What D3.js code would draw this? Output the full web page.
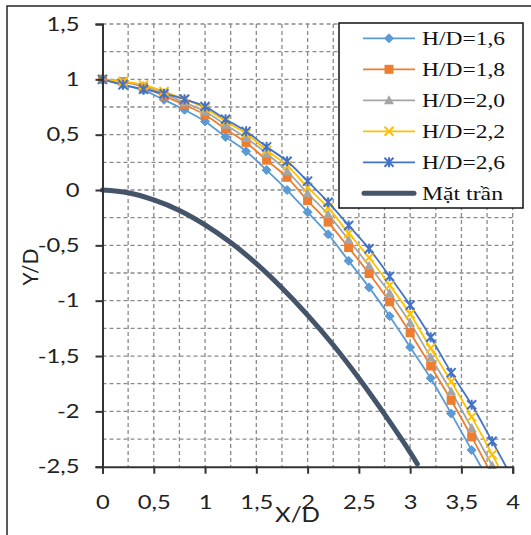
<!DOCTYPE html>
<html><head><meta charset="utf-8">
<script src="https://cdn.jsdelivr.net/npm/d3@7"></script>
<style>body{margin:0;background:#fff}svg{display:block}</style>
</head><body>
<svg id="c" width="531" height="535"></svg>
<script>
// ---- data ----
const xValues = [0,0.2,0.4,0.6,0.8,1.0,1.2,1.4,1.6,1.8,2.0,2.2,2.4,2.6,2.8,3.0,3.2,3.4,3.6,3.8,4.0];
const hd16 = [1.0,0.95,0.90,0.815,0.725,0.62,0.48,0.35,0.18,0.0,-0.20,-0.40,-0.64,-0.88,-1.14,-1.42,-1.70,-2.02,-2.35,-2.68];
const hd18 = [1.0,0.98,0.93,0.85,0.77,0.68,0.55,0.43,0.27,0.115,-0.095,-0.29,-0.52,-0.755,-1.01,-1.29,-1.59,-1.90,-2.23,-2.58];
const hd20 = [1.0,0.98,0.94,0.87,0.79,0.71,0.59,0.47,0.33,0.17,-0.03,-0.22,-0.45,-0.685,-0.93,-1.20,-1.51,-1.82,-2.15,-2.49,-2.85];
const hd22 = [1.0,0.98,0.95,0.89,0.82,0.74,0.62,0.51,0.36,0.22,0.025,-0.16,-0.39,-0.61,-0.86,-1.12,-1.43,-1.73,-2.05,-2.39,-2.75];
const hd26 = [1.0,0.95,0.91,0.87,0.82,0.755,0.64,0.53,0.39,0.26,0.08,-0.11,-0.32,-0.53,-0.78,-1.04,-1.33,-1.65,-1.94,-2.27,-2.61];
const ceilX = [0,0.25,0.5,0.75,1.0,1.25,1.5,1.75,2.0,2.25,2.5,2.75,3.0,3.07];
const ceilY = [0,-0.025,-0.09,-0.185,-0.315,-0.475,-0.665,-0.885,-1.13,-1.40,-1.70,-2.025,-2.37,-2.475];
const seriesNames = ["H/D=1,6","H/D=1,8","H/D=2,0","H/D=2,2","H/D=2,6","Mặt trần"];
const xTicks = [0,0.5,1,1.5,2,2.5,3,3.5,4];
const yTicks = [-2.5,-2,-1.5,-1,-0.5,0,0.5,1,1.5];
const gridStepsX = d3.range(0,4.001,0.25);
const gridStepsY = d3.range(-2.5,1.501,0.25);
const xTitle = "X/D", yTitle = "Y/D";

// ---- setup ----
const svg = d3.select("#c");
const x = d3.scaleLinear().domain([0,4]).range([102.5,512.7]);
const y = d3.scaleLinear().domain([-2.5,1.5]).range([466.7,24]);
const fmt = d => String(d).replace(".", ",");
const SX = 1.25;
const TFONT = "Lato, 'Open Sans', sans-serif";

// outer border
svg.append("rect").attr("x",7).attr("y",6).attr("width",540).attr("height",545)
  .attr("fill","#fff").attr("stroke","#262626").attr("stroke-width",1.5);

// grid
const grid = svg.append("g").attr("stroke","#8a8a8a").attr("stroke-width",1.3).attr("stroke-dasharray","4,3");
grid.selectAll("line.gx").data(gridStepsX.filter(v=>v>0)).join("line")
  .attr("x1",d=>x(d)).attr("x2",d=>x(d)).attr("y1",y(1.5)).attr("y2",y(-2.5));
grid.selectAll("line.gy").data(gridStepsY.filter(v=>v>-2.5)).join("line").attr("class","gy")
  .attr("x1",x(0)).attr("x2",x(4)).attr("y1",d=>y(d)).attr("y2",d=>y(d));

// clip
const defs = svg.append("defs");
defs.append("clipPath").attr("id","clipL").append("rect").attr("x",90).attr("y",10).attr("width",430).attr("height",457);
defs.append("clipPath").attr("id","clipM").append("rect").attr("x",90).attr("y",10).attr("width",430).attr("height",459);

const colors = ["#5B9BD5","#ED7D31","#A5A5A5","#FFC000","#4472C4"];
const data = [hd16,hd18,hd20,hd22,hd26];
const markerTypes = ["diamond","square","triangle","x","star"];

function drawMarker(g, type, cx, cy, color){
  if(type==="diamond"){
    g.append("path").attr("d",`M${cx},${cy-4.5}L${cx+4.5},${cy}L${cx},${cy+4.5}L${cx-4.5},${cy}Z`).attr("fill",color).attr("stroke",color).attr("stroke-width",1);
  } else if(type==="square"){
    g.append("rect").attr("x",cx-4.5).attr("y",cy-4.5).attr("width",9).attr("height",9).attr("fill",color);
  } else if(type==="triangle"){
    g.append("path").attr("d",`M${cx},${cy-5}L${cx+5},${cy+4}L${cx-5},${cy+4}Z`).attr("fill",color);
  } else if(type==="x"){
    g.append("path").attr("d",`M${cx-4.5},${cy-4.5}L${cx+4.5},${cy+4.5}M${cx+4.5},${cy-4.5}L${cx-4.5},${cy+4.5}`).attr("stroke",color).attr("stroke-width",2).attr("fill","none");
  } else if(type==="star"){
    g.append("path").attr("d",`M${cx-4.5},${cy-4.5}L${cx+4.5},${cy+4.5}M${cx+4.5},${cy-4.5}L${cx-4.5},${cy+4.5}M${cx},${cy-5}L${cx},${cy+5}`).attr("stroke",color).attr("stroke-width",2).attr("fill","none");
  }
}

const line = d3.line().x(d=>x(d[0])).y(d=>y(d[1])).curve(d3.curveCatmullRom.alpha(0.5));
const plotL = svg.append("g").attr("clip-path","url(#clipL)");
const plotM = svg.append("g").attr("clip-path","url(#clipM)");

// ceiling
plotL.append("path").datum(ceilX.map((v,i)=>[v,ceilY[i]])).attr("d",line)
  .attr("fill","none").attr("stroke","#44546A").attr("stroke-width",5).attr("stroke-linecap","round");

data.forEach((arr,i)=>{
  const pts = arr.map((v,k)=>[xValues[k],v]);
  plotL.append("path").datum(pts).attr("d",line).attr("fill","none").attr("stroke",colors[i]).attr("stroke-width",1.8);
});
data.forEach((arr,i)=>{
  arr.forEach((v,k)=>drawMarker(plotM, markerTypes[i], x(xValues[k]), y(v), colors[i]));
});

// axes
const axY = svg.append("g").attr("transform",`translate(${x(0)},0)`)
  .call(d3.axisLeft(y).tickValues(yTicks).tickFormat(fmt).tickSize(7).tickPadding(16));
const axX = svg.append("g").attr("transform",`translate(0,${y(-2.5)})`)
  .call(d3.axisBottom(x).tickValues(xTicks).tickFormat(fmt).tickSize(7).tickPadding(22));
[axY,axX].forEach(a=>{
  a.select(".domain").attr("stroke","#333").attr("stroke-width",2);
  a.selectAll(".tick line").attr("stroke","#333").attr("stroke-width",2);
  a.selectAll("text").attr("font-family",TFONT).attr("font-size",19).attr("fill","#222");
});
axY.selectAll("text").each(function(){
  const tx = +d3.select(this).attr("x");
  d3.select(this).attr("transform",`translate(${tx},0) scale(${SX},1) translate(${-tx},0)`);
});
axX.selectAll("text").attr("transform",`scale(${SX},1)`);

// axis titles
svg.append("text").attr("x",297.5).attr("y",522).attr("text-anchor","middle")
  .attr("font-family",TFONT).attr("font-size",21).attr("fill","#222")
  .attr("transform",`translate(297.5,0) scale(1.15,1) translate(-297.5,0)`).text(xTitle);
svg.append("text").attr("transform","translate(38,267) rotate(-90)").attr("text-anchor","middle")
  .attr("font-family",TFONT).attr("font-size",21).attr("fill","#222").text(yTitle);

// legend
const lg = svg.append("g");
lg.append("rect").attr("x",339).attr("y",23).attr("width",184).attr("height",185)
  .attr("fill","#fff").attr("stroke","#111").attr("stroke-width",1.5);
seriesNames.forEach((name,i)=>{
  const cy = 38.3 + i*31;
  if(i<5){
    lg.append("line").attr("x1",363).attr("x2",415).attr("y1",cy).attr("y2",cy).attr("stroke",colors[i]).attr("stroke-width",1.8);
    drawMarker(lg, markerTypes[i], 389, cy, colors[i]);
  } else {
    lg.append("line").attr("x1",364).attr("x2",414).attr("y1",cy).attr("y2",cy).attr("stroke","#44546A").attr("stroke-width",5).attr("stroke-linecap","round");
  }
  lg.append("text").attr("x",422).attr("y",cy+6.7).attr("font-family","'Liberation Serif', serif").attr("font-size",19)
    .attr("fill","#111").attr("textLength", i<5?83:81).attr("lengthAdjust","spacingAndGlyphs").text(name);
});
</script>
</body></html>
